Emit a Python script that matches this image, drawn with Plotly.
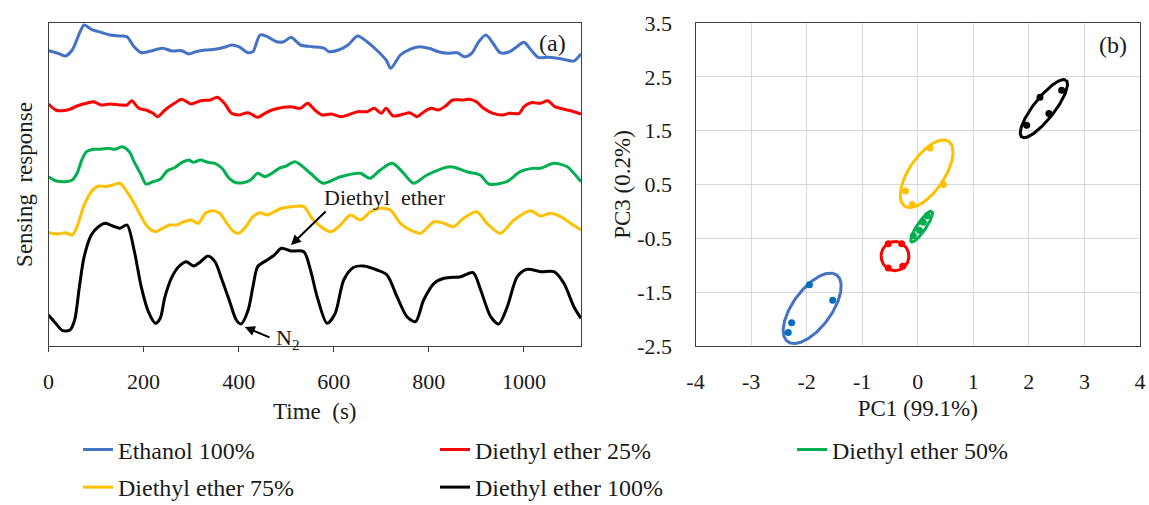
import numpy as np
import plotly.graph_objects as go

# ---------------- data: panel (a) sensing response vs time ----------------
SERIES_NAMES = ["Ethanol 100%", "Diethyl ether 25%", "Diethyl ether 50%",
                "Diethyl ether 75%", "Diethyl ether 100%"]
LINE_COLORS = ["#4472C4", "#FF0000", "#00B050", "#FFC000", "#000000"]
DOT_COLORS = ["#0070C0", "#FF0000", "#00B050", "#FFC000", "#000000"]

ETHANOL_T = [0, 20, 35, 50, 65, 75, 90, 110, 130, 150, 165, 180, 195, 215, 240, 260, 280, 295, 310,
             330, 350, 370, 385, 400, 420, 430, 445, 460, 480, 495, 510, 530, 555, 580, 590, 610,
             630, 650, 670, 690, 710, 720, 740, 760, 780, 800, 820, 840, 860, 875, 890, 905, 920,
             935, 950, 970, 985, 1000, 1015, 1030, 1050, 1070, 1090, 1105, 1120]
ETHANOL_V = [295.3, 292.7, 290, 296, 312.7, 321, 316.7, 313.7, 311, 310, 309.3, 299.3, 293.3, 295,
             297.7, 295, 295.3, 292, 294.3, 296, 296.7, 298.7, 301, 299.3, 293.3, 294.3, 311, 309.3,
             304.3, 304.3, 308.7, 301, 299.3, 297.7, 294.3, 296, 301, 310, 304.3, 296, 286, 277.7,
             291, 296.7, 299.3, 297.7, 294.3, 292.7, 293.3, 289.3, 292.7, 304.3, 311, 302.7, 293.3,
             294.3, 299.3, 303.7, 296, 288.7, 288.7, 287.7, 286, 285, 292]

DE25_T = [0, 15, 30, 45, 60, 80, 95, 110, 130, 150, 165, 175, 190, 205, 220, 230, 245, 265, 280,
          300, 320, 340, 355, 370, 385, 400, 420, 440, 455, 475, 495, 510, 530, 545, 560, 575, 595,
          615, 630, 650, 670, 685, 700, 710, 725, 745, 760, 775, 790, 805, 820, 835, 850, 870, 885,
          900, 915, 935, 955, 970, 990, 1000, 1015, 1035, 1050, 1065, 1085, 1105, 1120]
DE25_V = [242, 236, 235.3, 236.7, 240, 242.7, 244.3, 241, 242, 241, 241, 245.3, 237.7, 236, 232.7,
          229.3, 236, 242.7, 246.7, 242, 245.3, 246, 248.7, 242.7, 232.7, 231, 233.3, 228.7, 232.7,
          236.7, 238.7, 239.3, 237.7, 242.7, 236, 231, 232, 229.3, 231, 234.3, 234.3, 237.7, 232.7,
          237.7, 230, 231.7, 233.3, 229.3, 234.3, 237.7, 236, 240, 246, 246, 246.7, 244.3, 237.7,
          232.7, 231, 232.7, 232.7, 239.3, 243.3, 242.7, 245.3, 239.3, 236.7, 234.3, 232]

DE50_T = [0, 15, 35, 50, 60, 70, 80, 95, 110, 125, 140, 155, 170, 180, 195, 205, 220, 235, 250,
          265, 280, 295, 305, 320, 335, 350, 365, 380, 395, 410, 425, 440, 455, 470, 485, 500, 519,
          551, 578, 614, 656, 676, 698, 723, 747, 768, 796, 845, 880, 908, 926, 964, 992, 1020,
          1035, 1063, 1091, 1105, 1120]
DE50_V = [169.3, 165.3, 164.3, 166, 172.7, 186, 194.3, 196.7, 196.7, 197.7, 196.7, 199.3, 194.3,
          184.3, 171, 162, 164.3, 166.7, 175.3, 178.3, 183.3, 186, 183.7, 186, 183.7, 182.7, 177.7,
          167.7, 163.3, 163.3, 166, 172.7, 169.3, 172.7, 177.7, 180, 184.3, 172.7, 162.7, 169.3,
          172.7, 167.7, 176, 182.7, 172.7, 162.7, 171, 179.3, 174.3, 171, 162, 164.3, 174.3, 177.7,
          177.7, 182.7, 179.3, 172.7, 164.3]

DE75_T = [0, 20, 35, 50, 60, 75, 90, 105, 120, 135, 150, 165, 180, 195, 210, 225, 240, 255, 270,
          285, 300, 315, 330, 345, 360, 375, 390, 400, 415, 430, 445, 460, 475, 490, 510, 537, 557,
          593, 614, 635, 656, 677, 698, 719, 740, 761, 782, 811, 832, 852, 873, 901, 922, 950, 979,
          1014, 1035, 1056, 1077, 1098, 1120]
DE75_V = [113.3, 112, 113.3, 111, 119.3, 141, 154.3, 160, 159.3, 161, 162.7, 154.3, 142.7, 129.3,
          118.3, 114.3, 117.7, 121, 121, 124.3, 126, 122.7, 132.7, 135.3, 132.7, 122.7, 114.3,
          112.7, 119.3, 129.3, 133.3, 131, 134.3, 137.7, 139.3, 139.3, 126, 114.3, 121, 131, 126,
          134.3, 137.7, 136, 122.7, 116, 112.7, 124.3, 122.7, 119.3, 127.7, 134.3, 122.7, 112.7,
          126, 135.3, 130, 132.7, 129.3, 122.7, 116]

DE100_T = [0, 15, 30, 45, 55, 65, 75, 90, 105, 120, 135, 150, 165, 180, 195, 210, 225, 235, 245,
           260, 275, 290, 305, 320, 335, 350, 365, 380, 395, 405, 420, 430, 440, 460, 475, 490, 510,
           537, 551, 565, 586, 603, 621, 642, 663, 691, 712, 733, 754, 772, 789, 811, 832, 867, 893,
           909, 930, 947, 965, 986, 1007, 1035, 1063, 1084, 1105, 1120]
DE100_V = [31, 22.7, 15.3, 16, 26, 59.3, 89.3, 111, 119.3, 122.7, 120, 117.7, 121, 96, 59.3, 34.3,
           22.7, 27.7, 49.3, 69.3, 80, 84.3, 80, 84.3, 90, 84.3, 66, 46, 26, 22, 36, 59.3, 79.3, 86,
           91, 97.7, 95, 94.3, 76, 49.3, 22.7, 32.7, 66, 78.7, 80, 76, 71, 49.3, 29.3, 24.3, 46,
           62.7, 67.7, 69.3, 73.3, 56, 29.3, 22, 39.3, 69.3, 76.7, 74.3, 74.3, 62.7, 39.3, 27.7]

TIME_SERIES = [(ETHANOL_T, ETHANOL_V), (DE25_T, DE25_V), (DE50_T, DE50_V),
               (DE75_T, DE75_V), (DE100_T, DE100_V)]

# ---------------- data: panel (b) PCA scores ----------------
PC1_SCORES = [[-1.95, -1.53, -2.27, -2.33],
              [-0.53, -0.29, -0.53, -0.27],
              [-0.08, 0.03, 0.10, 0.17],
              [0.22, 0.46, -0.22, -0.10],
              [1.96, 2.20, 2.59, 2.36]]
PC3_SCORES = [[-1.36, -1.65, -2.07, -2.25],
              [-0.60, -0.60, -1.05, -1.02],
              [-0.45, -0.35, -0.20, -0.08],
              [1.18, 0.50, 0.38, 0.13],
              [1.60, 2.12, 2.25, 1.82]]
# confidence ellipses: centre, semi-axes, rotation (deg)
ELL_CX = [-1.90, -0.41, 0.07, 0.16, 2.27]
ELL_CY = [-1.80, -0.83, -0.28, 0.70, 1.91]
ELL_A = [0.76, 0.27, 0.34, 0.72, 0.66]
ELL_B = [0.35, 0.25, 0.08, 0.32, 0.19]
ELL_ANG = [55, 90, 57, 57, 53]

X2_TICKS = [-4, -3, -2, -1, 0, 1, 2, 3, 4]
X2_TICKTEXT = ["-4", "-3", "-2", "-1", "0", "1", "2", "3", "4"]
Y2_TICKS = [-2.5, -1.5, -0.5, 0.5, 1.5, 2.5, 3.5]
Y2_TICKTEXT = ["-2.5", "-1.5", "-0.5", "0.5", "1.5", "2.5", "3.5"]

# ---------------- figure ----------------
W, H = 1149, 505
FONT = "Liberation Serif"
TXT = "#1a1a1a"

fig = go.Figure()

for i, (name, (t, v)) in enumerate(zip(SERIES_NAMES, TIME_SERIES)):
    fig.add_trace(go.Scatter(
        x=t, y=v, mode="lines", name=name, xaxis="x", yaxis="y",
        line=dict(color=LINE_COLORS[i], width=3, shape="spline", smoothing=0.8),
        legend="legend" if i < 3 else "legend2", legendgroup=name, hoverinfo="skip"))

th = np.linspace(0, 2 * np.pi, 200)
for i, name in enumerate(SERIES_NAMES):
    ang = np.deg2rad(ELL_ANG[i])
    ex = ELL_CX[i] + ELL_A[i] * np.cos(th) * np.cos(ang) - ELL_B[i] * np.sin(th) * np.sin(ang)
    ey = ELL_CY[i] + ELL_A[i] * np.cos(th) * np.sin(ang) + ELL_B[i] * np.sin(th) * np.cos(ang)
    fig.add_trace(go.Scatter(
        x=ex, y=ey, mode="lines", xaxis="x2", yaxis="y2", showlegend=False,
        legendgroup=name, line=dict(color=LINE_COLORS[i], width=3), hoverinfo="skip"))
    fig.add_trace(go.Scatter(
        x=PC1_SCORES[i], y=PC3_SCORES[i], mode="markers", xaxis="x2", yaxis="y2",
        showlegend=False, legendgroup=name,
        marker=dict(color=DOT_COLORS[i], size=7)))

axis_common = dict(showline=True, linecolor="#404040", linewidth=1, mirror=True,
                   zeroline=False, tickfont=dict(family=FONT, size=22, color=TXT))

fig.update_layout(
    width=W, height=H,
    margin=dict(l=0, r=0, t=23, b=159, autoexpand=False),
    paper_bgcolor="white", plot_bgcolor="white",
    font=dict(family=FONT, size=22, color=TXT),
    xaxis=dict(domain=[48.5 / W, 581 / W], range=[0, 1120], tickvals=[0, 200, 400, 600, 800, 1000],
               ticks="outside", ticklen=5, tickcolor="#404040", showgrid=False, ticklabelstandoff=11,
               title=dict(text="Time  (s)", font=dict(family=FONT, size=23, color=TXT), standoff=9),
               anchor="y", automargin=False, **axis_common),
    yaxis=dict(domain=[0, 1], range=[0, 323], showticklabels=False, ticks="", showgrid=False,
               title=dict(text="Sensing  response", font=dict(family=FONT, size=23, color=TXT), standoff=8),
               anchor="x", automargin=False, **axis_common),
    xaxis2=dict(domain=[695.5 / W, 1140 / W], range=[-4, 4], tickvals=X2_TICKS, ticktext=X2_TICKTEXT,
                showgrid=True, gridcolor="#d9d9d9", gridwidth=1, ticks="", ticklabelstandoff=16,
                title=dict(text="PC1 (99.1%)", font=dict(family=FONT, size=23, color=TXT), standoff=6),
                anchor="y2", automargin=False, **axis_common),
    yaxis2=dict(domain=[0, 1], range=[-2.5, 3.5], tickvals=Y2_TICKS, ticktext=Y2_TICKTEXT,
                showgrid=True, gridcolor="#d9d9d9", gridwidth=1, ticks="", ticklabelstandoff=18,
                title=dict(text="PC3 (0.2%)", font=dict(family=FONT, size=23, color=TXT), standoff=0),
                anchor="x2", automargin=False, **axis_common),
    legend=dict(orientation="h", x=78 / W, xanchor="left", y=(346 - 450) / 323, yanchor="middle",
                entrywidth=312, entrywidthmode="pixels", font=dict(family=FONT, size=24, color=TXT),
                bgcolor="rgba(0,0,0,0)", itemclick=False, itemdoubleclick=False),
    legend2=dict(orientation="h", x=78 / W, xanchor="left", y=(346 - 510) / 323, yanchor="bottom",
                 entrywidth=312, entrywidthmode="pixels", font=dict(family=FONT, size=24, color=TXT),
                 bgcolor="rgba(0,0,0,0)", itemclick=False, itemdoubleclick=False),
    showlegend=True,
)

ann_font = dict(family=FONT, size=22, color=TXT)
fig.add_annotation(x=1061, y=303, xref="x", yref="y", text="(a)", showarrow=False, font=dict(family=FONT, size=24, color=TXT))
fig.add_annotation(x=3.51, y=3.09, xref="x2", yref="y2", text="(b)", showarrow=False, font=dict(family=FONT, size=24, color=TXT))
fig.add_annotation(x=708, y=149, xref="x", yref="y", text="Diethyl  ether", showarrow=False, font=ann_font)
fig.add_annotation(x=510, y=101, xref="x", yref="y", ax=586, ay=136, axref="x", ayref="y", text="",
                   showarrow=True, arrowhead=2, arrowsize=1, arrowwidth=2, arrowcolor="#000000")
fig.add_annotation(x=504, y=7, xref="x", yref="y", text="N<sub>2</sub>", showarrow=False, font=ann_font)
fig.add_annotation(x=413, y=19, xref="x", yref="y", ax=468, ay=8, axref="x", ayref="y", text="",
                   showarrow=True, arrowhead=2, arrowsize=1, arrowwidth=2, arrowcolor="#000000")

fig.write_html("out.html")
